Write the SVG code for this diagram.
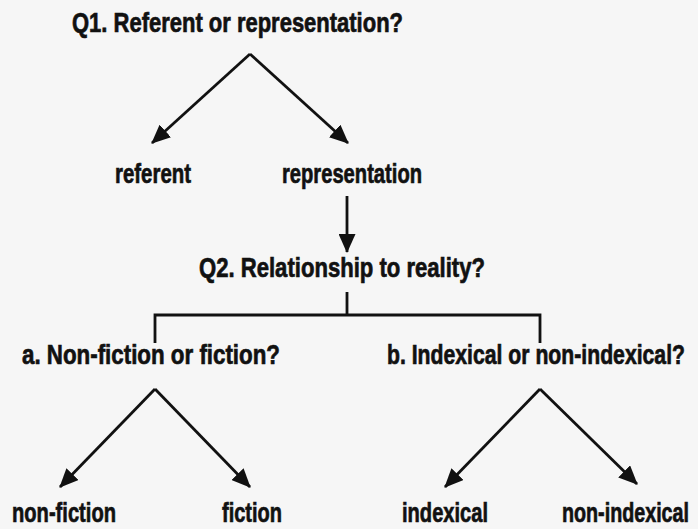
<svg xmlns="http://www.w3.org/2000/svg" width="698" height="529" viewBox="0 0 698 529">
<defs>
<style>
.t{font-family:"Liberation Sans Narrow","Liberation Sans",Arial,sans-serif;font-weight:bold;font-size:28px;fill:#111;stroke:#111;stroke-width:0.7}
.l{fill:none;stroke:#111;stroke-width:2.8}
</style>
<marker id="ah" viewBox="0 0 19 17" refX="18" refY="8.5" markerWidth="19" markerHeight="17" markerUnits="userSpaceOnUse" orient="auto">
<path d="M0,0 L19,8.5 L0,17 Z" fill="#111"/>
</marker>
</defs>
<rect width="698" height="529" fill="#f6f6f6"/>
<g id="connectors">
<path class="l" d="M250,54 L152,143" marker-end="url(#ah)"/>
<path class="l" d="M250,54 L348,143" marker-end="url(#ah)"/>
<path class="l" d="M347,196 L347,252" marker-end="url(#ah)"/>
<path class="l" d="M347,292 L347,315 M155,343 L155,315 L540,315 L540,343"/>
<path class="l" d="M155,389 L60,487" marker-end="url(#ah)"/>
<path class="l" d="M155,389 L250,487" marker-end="url(#ah)"/>
<path class="l" d="M540,389 L445,487" marker-end="url(#ah)"/>
<path class="l" d="M540,389 L637,484" marker-end="url(#ah)"/>
</g>
<g id="q1"><text class="t" x="72" y="32" textLength="331" lengthAdjust="spacingAndGlyphs">Q1. Referent or representation?</text></g>
<g id="referent"><text class="t" x="115" y="183" textLength="76" lengthAdjust="spacingAndGlyphs">referent</text></g>
<g id="representation"><text class="t" x="282" y="183" textLength="140" lengthAdjust="spacingAndGlyphs">representation</text></g>
<g id="q2"><text class="t" x="199" y="277" textLength="286" lengthAdjust="spacingAndGlyphs">Q2. Relationship to reality?</text></g>
<g id="qa"><text class="t" x="22" y="364" textLength="258" lengthAdjust="spacingAndGlyphs">a. Non-fiction or fiction?</text></g>
<g id="qb"><text class="t" x="387" y="364" font-size="26" textLength="298" lengthAdjust="spacingAndGlyphs">b. Indexical or non-indexical?</text></g>
<g id="nonfiction"><text class="t" x="12" y="522" textLength="104" lengthAdjust="spacingAndGlyphs">non-fiction</text></g>
<g id="fiction"><text class="t" x="222" y="522" textLength="60" lengthAdjust="spacingAndGlyphs">fiction</text></g>
<g id="indexical"><text class="t" x="402" y="522" textLength="86" lengthAdjust="spacingAndGlyphs">indexical</text></g>
<g id="nonindexical"><text class="t" x="562" y="522" font-size="25" textLength="127" lengthAdjust="spacingAndGlyphs">non-indexical</text></g>
</svg>
